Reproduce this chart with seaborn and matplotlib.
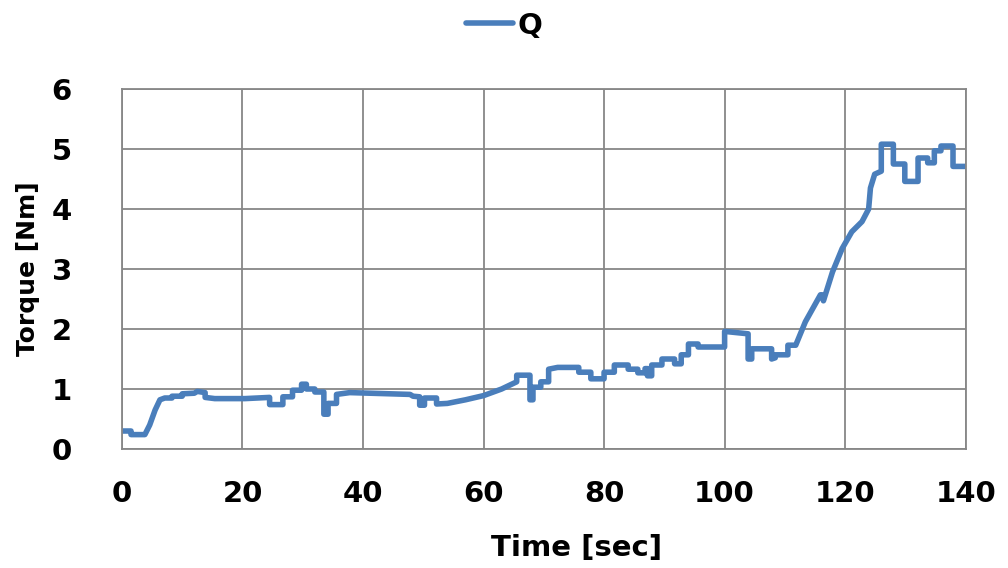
import matplotlib
matplotlib.use("Agg")
import matplotlib.pyplot as plt
import seaborn as sns
import pandas as pd

# Measured torque trace (time in seconds, torque in Nm)
time_s = [
    0, 1.5, 1.5, 3.8, 4.6, 5.5, 6.3, 7.1, 8.3, 8.3, 10, 10, 12, 12.5, 13.8, 13.8,
    15.4, 20.4, 24.5, 24.5, 26.7, 26.7, 28.3, 28.3, 29.8, 29.8, 30.6, 30.6, 32, 32,
    33.5, 33.5, 34.2, 34.2, 35.6, 35.6, 37.8, 47.8, 48.3, 49.4, 49.4, 50.2, 50.2,
    52.2, 52.2, 54, 57, 60, 63, 65.5, 65.5, 67.7, 67.7, 68.2, 68.2, 69.5, 69.5,
    70.8, 70.8, 72.3, 75.8, 75.8, 77.8, 77.8, 80, 80, 81.7, 81.7, 84, 84, 85.6,
    85.6, 86.8, 86.8, 87.2, 87.2, 87.9, 87.9, 89.6, 89.6, 91.7, 91.7, 92.8, 92.8,
    94, 94, 95.6, 95.6, 100, 100, 103.9, 103.9, 104.5, 104.5, 107.8, 107.8, 108.4,
    108.4, 110.5, 110.5, 111.8, 113.4, 115.9, 116.2, 116.4, 117.9, 119.5, 121.1,
    122.8, 123.9, 124.2, 124.9, 126, 126, 128, 128, 129.9, 129.9, 132.1, 132.1,
    133.7, 133.7, 134.8, 134.8, 135.9, 135.9, 137.9, 137.9, 140,
]
torque_nm = [
    0.30, 0.30, 0.24, 0.24, 0.40, 0.65, 0.82, 0.85, 0.85, 0.88, 0.88, 0.92, 0.93,
    0.96, 0.94, 0.86, 0.84, 0.84, 0.86, 0.74, 0.74, 0.87, 0.87, 0.98, 0.98, 1.08,
    1.08, 1.00, 1.00, 0.95, 0.95, 0.58, 0.58, 0.76, 0.76, 0.91, 0.94, 0.91, 0.88,
    0.87, 0.73, 0.73, 0.85, 0.85, 0.75, 0.76, 0.82, 0.89, 1.00, 1.12, 1.23, 1.23,
    0.82, 0.82, 1.03, 1.03, 1.12, 1.12, 1.33, 1.36, 1.36, 1.28, 1.28, 1.17, 1.17,
    1.28, 1.28, 1.40, 1.40, 1.33, 1.33, 1.27, 1.27, 1.34, 1.34, 1.22, 1.22, 1.40,
    1.40, 1.50, 1.50, 1.42, 1.42, 1.57, 1.57, 1.75, 1.75, 1.70, 1.70, 1.96, 1.92,
    1.50, 1.50, 1.67, 1.67, 1.50, 1.52, 1.57, 1.57, 1.73, 1.73, 2.12, 2.57, 2.57,
    2.47, 2.95, 3.34, 3.62, 3.79, 4.00, 4.35, 4.58, 4.63, 5.08, 5.08, 4.75, 4.75,
    4.46, 4.46, 4.85, 4.85, 4.77, 4.77, 4.97, 4.97, 5.05, 5.05, 4.71, 4.71,
]
series_name = "Q"
x_ticks = [0, 20, 40, 60, 80, 100, 120, 140]
y_ticks = [0, 1, 2, 3, 4, 5, 6]

df = pd.DataFrame({"Time": time_s, "Torque": torque_nm})

sns.set_theme(style="white")
plt.rcParams["font.family"] = ["DejaVu Sans"]
plt.rcParams["text.color"] = "black"
plt.rcParams["axes.labelcolor"] = "black"

fig = plt.figure(figsize=(10.08, 5.68), dpi=100)
ax = fig.add_axes([0.121, 0.2095, 0.837, 0.6338])

sns.lineplot(data=df, x="Time", y="Torque", sort=False, estimator=None,
             color="#4a7ebb", linewidth=4.0, label=series_name, ax=ax)

grid_col = "#878787"
ax.set_xlim(0, 140)
ax.set_ylim(0, 6)
ax.set_xticks(x_ticks)
ax.set_yticks(y_ticks)
ax.grid(True, color=grid_col, linewidth=1.3)
ax.set_axisbelow(True)
for sp in ax.spines.values():
    sp.set_visible(True)
    sp.set_color(grid_col)
    sp.set_linewidth(1.3)

ax.tick_params(axis="both", length=0, labelsize=21, colors="black")
ax.tick_params(axis="x", pad=22)
ax.tick_params(axis="y", pad=36)
for lbl in ax.get_xticklabels() + ax.get_yticklabels():
    lbl.set_fontweight("bold")

ax.set_xlabel("Time [sec]", fontsize=21, fontweight="bold", color="black")
ax.set_ylabel("Torque [Nm]", fontsize=18, fontweight="bold", color="black")
ax.xaxis.set_label_coords(0.539, -0.235)
ax.yaxis.set_label_coords(-0.097, 0.5)

leg = ax.legend(loc="center", bbox_to_anchor=(0.5, 0.955),
                bbox_transform=fig.transFigure, frameon=False,
                handlelength=1.6, handletextpad=0.15,
                prop={"size": 21, "weight": "bold"})
for txt in leg.get_texts():
    txt.set_color("black")

fig.savefig("out.png", dpi=100)
